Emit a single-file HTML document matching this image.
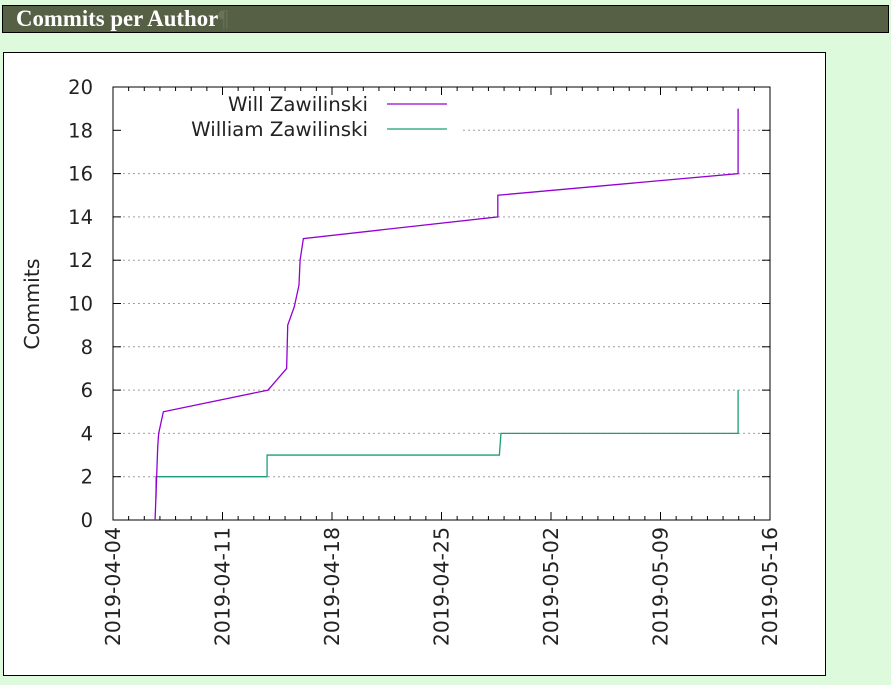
<!DOCTYPE html>
<html><head><meta charset="utf-8"><style>
body{margin:0;width:891px;height:685px;background:#ddfbdc;position:relative;overflow:hidden;font-family:"DejaVu Sans","Liberation Sans",sans-serif}
#hdr{position:absolute;left:2px;top:5px;width:885px;height:26px;background:#556044;border:1px solid #000}
#hdr span{position:absolute;left:13px;top:0px;font:bold 22.8px "Liberation Serif",serif;color:#fff}
#box{position:absolute;left:3px;top:52px;width:821px;height:622px;background:#fff;border:1px solid #000}
svg{position:absolute;left:0;top:0}
</style></head><body>
<div id="hdr"><span>Commits per Author<span style="position:static;color:#6a7358;font-weight:normal">¶</span></span></div>
<div id="box"></div>
<svg id="c" width="891" height="685"></svg>
<script>
const xTickLabels=["2019-04-04","2019-04-11","2019-04-18","2019-04-25","2019-05-02","2019-05-09","2019-05-16"];
const yTicks=[0,2,4,6,8,10,12,14,16,18,20];
const willDays=[2.69,2.86,2.92,3.22,9.91,11.1,11.17,11.59,11.89,11.96,12.17,24.6,24.6,39.96,39.96];
const willVals=[0,3.4,4,5,6,7,9,9.85,10.85,12,13,14,15,16,19];
const williamDays=[2.75,2.75,2.75,9.85,9.85,24.7,24.8,39.96,39.96];
const williamVals=[1,2,2,2,3,3,4,4,6];
const L=113,R=770,T=87,B=520,ND=42;
const X=d=>L+d*(R-L)/ND, Y=v=>B-v*(B-T)/20;
const s=document.getElementById('c');const NS="http://www.w3.org/2000/svg";
function el(t,a,txt){const e=document.createElementNS(NS,t);for(const k in a)e.setAttribute(k,a[k]);if(txt!==undefined)e.textContent=txt;s.appendChild(e);return e;}
yTicks.forEach(v=>{
 if(v>0&&v<20){const g=el('line',{x1:v==18?463:L,x2:R,y1:Y(v),y2:Y(v),stroke:'#a0a0a0','stroke-dasharray':'2,3'});
 
 }
 el('line',{x1:L,x2:L+8,y1:Y(v),y2:Y(v),stroke:'#000'});el('line',{x1:R,x2:R-8,y1:Y(v),y2:Y(v),stroke:'#000'});
 const t=el('text',{x:93,y:Y(v)+7,'text-anchor':'end','font-size':19.5,fill:'#222'},v);
 
 
});
for(let d=0;d<=ND;d++){const big=d%7==0;el('line',{x1:X(d),x2:X(d),y1:B,y2:B-(big?8:4),stroke:'#000'});el('line',{x1:X(d),x2:X(d),y1:T,y2:T+(big?8:4),stroke:'#000'});}
xTickLabels.forEach((l,i)=>{const x=X(i*7)+7;const t=el('text',{x:x,y:527,transform:`rotate(-90 ${x} 527)`,'text-anchor':'end','font-size':20.5,fill:'#222'},l);
 
 });
const f=el('rect',{x:L,y:T,width:R-L,height:B-T,fill:'none',stroke:'#000'});


const yt=el('text',{x:39,y:304,transform:'rotate(-90 39 304)','text-anchor':'middle','font-size':20.5,fill:'#222'},'Commits');


const w2=el('polyline',{points:williamDays.map((d,i)=>X(d)+','+Y(williamVals[i])).join(' '),fill:'none',stroke:'#1a9e77','stroke-width':1.3});


const w1=el('polyline',{points:willDays.map((d,i)=>X(d)+','+Y(willVals[i])).join(' '),fill:'none',stroke:'#9400d3','stroke-width':1.3});


[['Will Zawilinski','#9400d3',104],['William Zawilinski','#1a9e77',129]].forEach(([n,c,y])=>{
 const t=el('text',{x:368,y:y+7,'text-anchor':'end','font-size':19.8,fill:'#222'},n);
 
 
 const l=el('line',{x1:387,x2:447,y1:y,y2:y,stroke:c,'stroke-width':1.3});
 
 
});
</script>
</body></html>
